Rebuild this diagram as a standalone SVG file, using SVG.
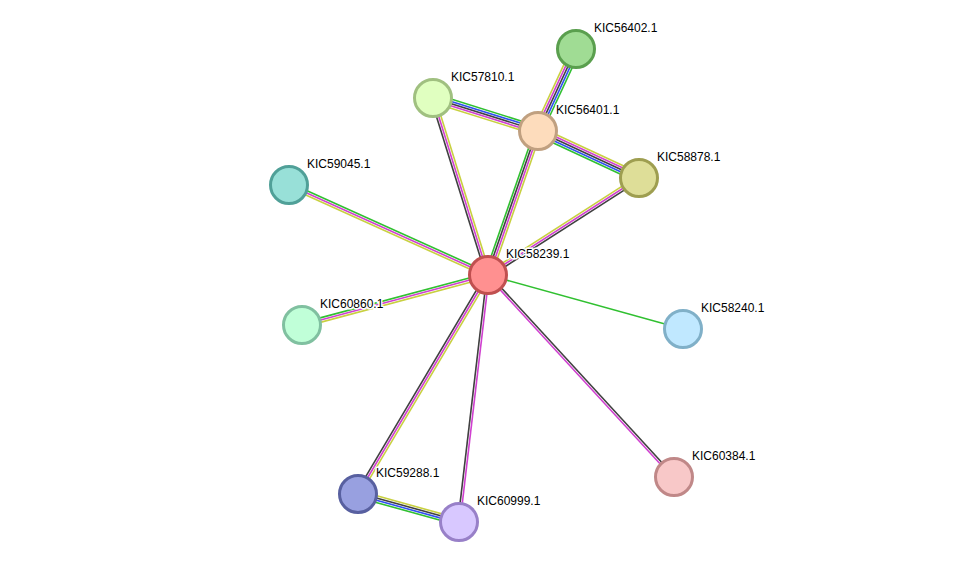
<svg xmlns="http://www.w3.org/2000/svg" width="976" height="568" viewBox="0 0 976 568">
<style>
line{stroke-width:1.6;fill:none}
.g{stroke:#30c030}.b{stroke:#3050f0}.k{stroke:#404040}.m{stroke:#d040d0}.y{stroke:#c8d040}
circle{stroke-width:3}
text{font-family:"Liberation Sans",Arial,sans-serif;font-size:12px;fill:#000;stroke:#fff;stroke-width:3;paint-order:stroke;stroke-linejoin:round}
</style>
<rect width="976" height="568" fill="#fff"/>
<g id="edges">
<g transform="translate(576,49) rotate(114.9)"><line class="g" x1="0" y1="-4.4" x2="90" y2="-4.4"/><line class="b" x1="0" y1="-2.2" x2="90" y2="-2.2"/><line class="k" x1="0" y1="0" x2="90" y2="0"/><line class="m" x1="0" y1="2.2" x2="90" y2="2.2"/><line class="y" x1="0" y1="4.4" x2="90" y2="4.4"/></g>
<g transform="translate(433,98) rotate(17.4)"><line class="g" x1="0" y1="-4.4" x2="110" y2="-4.4"/><line class="b" x1="0" y1="-2.2" x2="110" y2="-2.2"/><line class="k" x1="0" y1="0" x2="110" y2="0"/><line class="m" x1="0" y1="2.2" x2="110" y2="2.2"/><line class="y" x1="0" y1="4.4" x2="110" y2="4.4"/></g>
<g transform="translate(538,131) rotate(24.9)"><line class="y" x1="0" y1="-4.4" x2="111" y2="-4.4"/><line class="m" x1="0" y1="-2.2" x2="111" y2="-2.2"/><line class="k" x1="0" y1="0" x2="111" y2="0"/><line class="b" x1="0" y1="2.2" x2="111" y2="2.2"/><line class="g" x1="0" y1="4.4" x2="111" y2="4.4"/></g>
<g transform="translate(433,98) rotate(72.7)"><line class="y" x1="0" y1="-2.2" x2="185" y2="-2.2"/><line class="m" x1="0" y1="0" x2="185" y2="0"/><line class="k" x1="0" y1="2.2" x2="185" y2="2.2"/></g>
<g transform="translate(538,131) rotate(109.1)"><line class="y" x1="0" y1="-3.3" x2="152" y2="-3.3"/><line class="m" x1="0" y1="-1.1" x2="152" y2="-1.1"/><line class="k" x1="0" y1="1.1" x2="152" y2="1.1"/><line class="g" x1="0" y1="3.3" x2="152" y2="3.3"/></g>
<g transform="translate(639,178) rotate(147.3)"><line class="k" x1="0" y1="-2.2" x2="180" y2="-2.2"/><line class="m" x1="0" y1="0" x2="180" y2="0"/><line class="y" x1="0" y1="2.2" x2="180" y2="2.2"/></g>
<g transform="translate(289,185) rotate(24.3)"><line class="g" x1="0" y1="-2.2" x2="218" y2="-2.2"/><line class="m" x1="0" y1="0" x2="218" y2="0"/><line class="y" x1="0" y1="2.2" x2="218" y2="2.2"/></g>
<g transform="translate(302,325) rotate(-15)"><line class="g" x1="0" y1="-2.2" x2="193" y2="-2.2"/><line class="m" x1="0" y1="0" x2="193" y2="0"/><line class="y" x1="0" y1="2.2" x2="193" y2="2.2"/></g>
<line class="g" x1="488" y1="275" x2="683" y2="329"/>
<g transform="translate(488,275) rotate(47.4)"><line class="k" x1="0" y1="-1.1" x2="275" y2="-1.1"/><line class="m" x1="0" y1="1.1" x2="275" y2="1.1"/></g>
<g transform="translate(488,275) rotate(120.7)"><line class="k" x1="0" y1="2.2" x2="255" y2="2.2"/><line class="m" x1="0" y1="0" x2="255" y2="0"/><line class="y" x1="0" y1="-2.2" x2="255" y2="-2.2"/></g>
<g transform="translate(488,275) rotate(96.7)"><line class="k" x1="0" y1="1.1" x2="249" y2="1.1"/><line class="m" x1="0" y1="-1.1" x2="249" y2="-1.1"/></g>
<g transform="translate(358,494) rotate(15.5)"><line class="y" x1="0" y1="-3.3" x2="105" y2="-3.3"/><line class="k" x1="0" y1="-1.1" x2="105" y2="-1.1"/><line class="b" x1="0" y1="1.1" x2="105" y2="1.1"/><line class="g" x1="0" y1="3.3" x2="105" y2="3.3"/></g>
</g>
<g id="KIC56402.1"><circle cx="576" cy="49" r="18.5" fill="#a0dc94" stroke="#5a9f4e"/><text x="594" y="32">KIC56402.1</text></g>
<g id="KIC57810.1"><circle cx="433" cy="98" r="18.5" fill="#e0ffc0" stroke="#a0c080"/><text x="451" y="81">KIC57810.1</text></g>
<g id="KIC56401.1"><circle cx="538" cy="131" r="18.5" fill="#fddcbc" stroke="#c0a080"/><text x="556" y="114">KIC56401.1</text></g>
<g id="KIC58878.1"><circle cx="639" cy="178" r="18.5" fill="#dede98" stroke="#9e9e50"/><text x="657" y="161">KIC58878.1</text></g>
<g id="KIC59045.1"><circle cx="289" cy="185" r="18.5" fill="#98e0d8" stroke="#50a098"/><text x="307" y="168">KIC59045.1</text></g>
<g id="KIC58239.1"><circle cx="488" cy="275" r="18.5" fill="#ff9090" stroke="#c05050"/><text x="506" y="258">KIC58239.1</text></g>
<g id="KIC60860.1"><circle cx="302" cy="325" r="18.5" fill="#c0ffd8" stroke="#80c0a0"/><text x="320" y="308">KIC60860.1</text></g>
<g id="KIC58240.1"><circle cx="683" cy="329" r="18.5" fill="#c0e8ff" stroke="#80b0c8"/><text x="701" y="312">KIC58240.1</text></g>
<g id="KIC60384.1"><circle cx="674" cy="477" r="18.5" fill="#f8c8c8" stroke="#c08888"/><text x="692" y="460">KIC60384.1</text></g>
<g id="KIC59288.1"><circle cx="358" cy="494" r="18.5" fill="#98a0e0" stroke="#5860a0"/><text x="376" y="477">KIC59288.1</text></g>
<g id="KIC60999.1"><circle cx="459" cy="522" r="18.5" fill="#d8c8ff" stroke="#9880c8"/><text x="477" y="505">KIC60999.1</text></g>
</svg>
